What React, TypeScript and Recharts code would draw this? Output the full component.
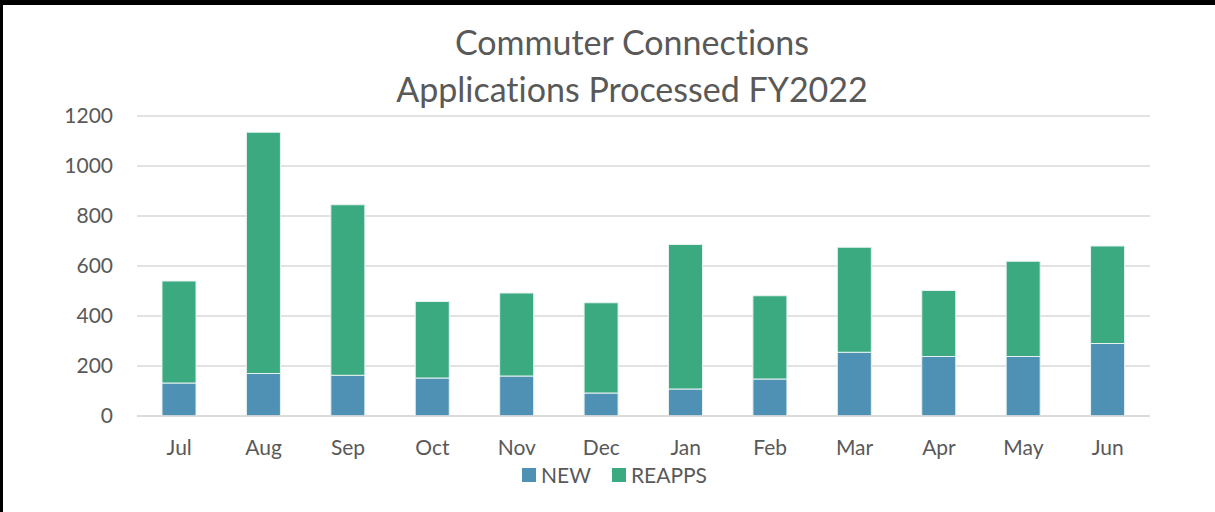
import { BarChart, Bar, XAxis, YAxis, CartesianGrid, Legend } from "recharts"

const months = ["Jul", "Aug", "Sep", "Oct", "Nov", "Dec", "Jan", "Feb", "Mar", "Apr", "May", "Jun"]
const newApps = [132, 170, 163, 152, 160, 92, 108, 148, 255, 238, 238, 290]
const reapps = [408, 965, 682, 306, 332, 361, 578, 333, 420, 264, 381, 390]
const yTicks = [0, 200, 400, 600, 800, 1000, 1200]

const data = months.map((m, i) => ({ month: m, NEW: newApps[i], REAPPS: reapps[i] }))

const font = "Lato, 'Open Sans', sans-serif"
const colors: Record<string, string> = { NEW: "#4F91B4", REAPPS: "#3BAA81" }

// legend drawn as plain html so the spacing matches the original
const renderLegend = (props: any) => {
  const items = props.payload || []
  return (
    <div style={{ display: "flex", justifyContent: "center", alignItems: "center", fontFamily: font }}>
      {items.map((it: any) => (
        <div key={it.value} style={{ display: "flex", alignItems: "center", marginRight: 21 }}>
          <span style={{ width: 14, height: 14, background: colors[it.value], marginRight: 5, display: "inline-block" }} />
          <span style={{ color: "#595959", fontSize: 21, lineHeight: "24px" }}>{it.value}</span>
        </div>
      ))}
    </div>
  )
}

export default function App() {
  return (
    <div
      style={{
        position: "absolute",
        left: 0,
        top: 0,
        width: 1215,
        height: 512,
        background: "#fff",
        fontFamily: font,
        fontVariantLigatures: "none",
        overflow: "hidden",
      }}
    >
      {/* frame edges visible in the original screenshot */}
      <div style={{ position: "absolute", left: 0, top: 0, width: 1215, height: 5, background: "#000" }} />
      <div style={{ position: "absolute", left: 0, top: 0, width: 3, height: 512, background: "#000" }} />

      <div
        style={{
          position: "absolute",
          left: 0,
          width: 1264,
          top: 18,
          textAlign: "center",
          color: "#595959",
          fontSize: 34,
          lineHeight: "47px",
        }}
      >
        <div>Commuter Connections</div>
        <div>Applications Processed FY2022</div>
      </div>

      <BarChart
        width={1215}
        height={512}
        data={data}
        margin={{ top: 116, right: 65, left: 0, bottom: 0 }}
        style={{ position: "absolute", left: 0, top: 0 }}
      >
        <CartesianGrid vertical={false} stroke="#d9d9d9" strokeWidth={1.5} />
        <XAxis
          dataKey="month"
          axisLine={{ stroke: "#d9d9d9", strokeWidth: 1.5 }}
          tickLine={false}
          tickSize={0}
          tickMargin={24}
          height={46}
          tick={{ fill: "#595959", fontSize: 21, fontFamily: font }}
        />
        <YAxis
          domain={[0, 1200]}
          ticks={yTicks}
          axisLine={false}
          tickLine={false}
          tickSize={0}
          tickMargin={24}
          width={137}
          tick={{ fill: "#595959", fontSize: 21, fontFamily: font }}
        />
        <Legend
          verticalAlign="bottom"
          height={50}
          content={renderLegend}
          wrapperStyle={{ left: 0, width: 1250, top: 463 }}
        />
        <Bar dataKey="NEW" stackId="a" fill={colors.NEW} stroke="#e6f2f0" strokeWidth={1} barSize={34} isAnimationActive={false} />
        <Bar dataKey="REAPPS" stackId="a" fill={colors.REAPPS} stroke="#e6f2f0" strokeWidth={1} barSize={34} isAnimationActive={false} />
      </BarChart>
    </div>
  )
}
